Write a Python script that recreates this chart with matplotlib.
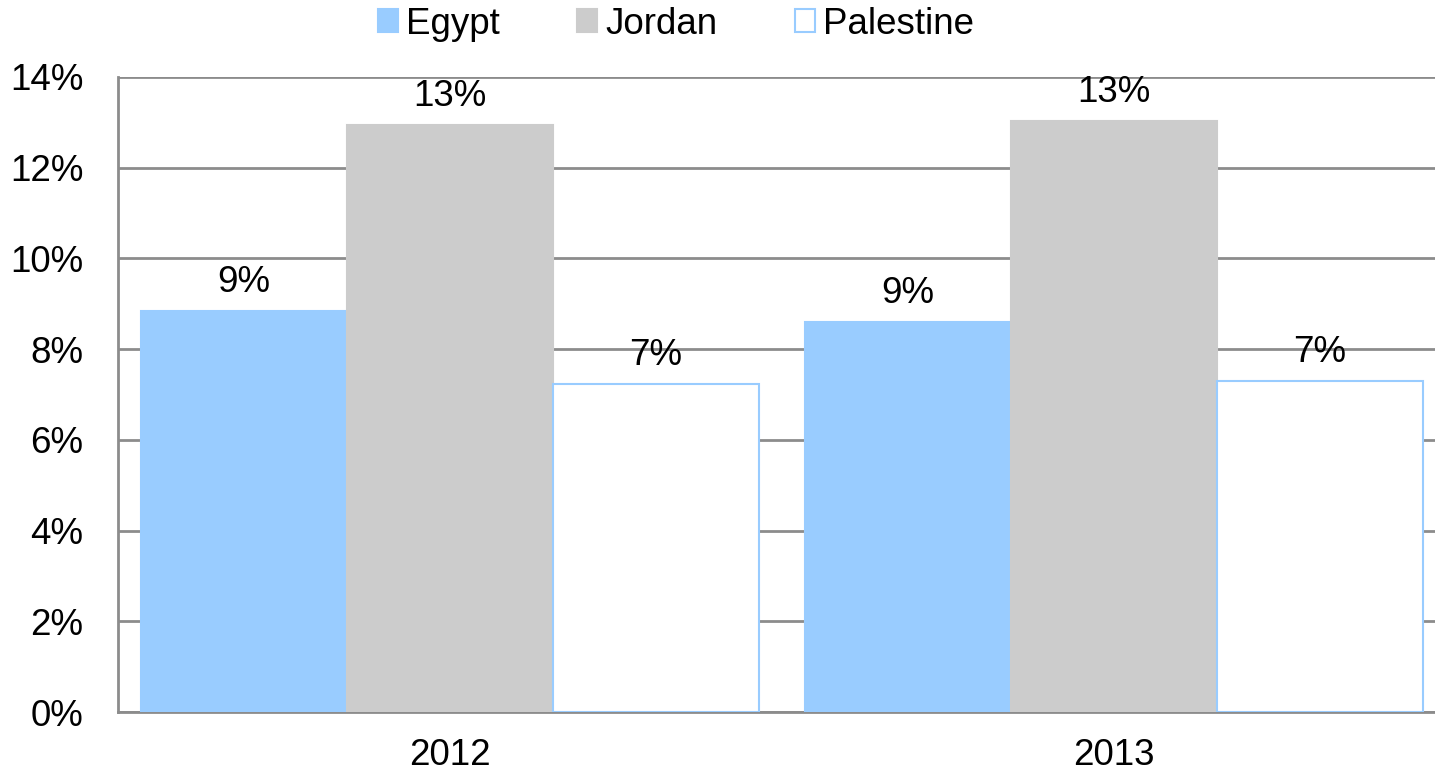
import matplotlib
matplotlib.use("Agg")
import matplotlib.pyplot as plt
from matplotlib.patches import Patch
import numpy as np

plt.rcParams['font.family'] = ['Liberation Sans', 'DejaVu Sans']

years = ["2012", "2013"]
countries = ["Egypt", "Jordan", "Palestine"]
egypt = [8.84, 8.60]
jordan = [12.94, 13.03]
palestine = [7.23, 7.30]
yticks = [0, 2, 4, 6, 8, 10, 12, 14]

series = [egypt, jordan, palestine]
faces = ["#99CCFF", "#CCCCCC", "#FFFFFF"]
edges = ["#99CCFF", "#CCCCCC", "#99CCFF"]
FS = 26.5

fig = plt.figure(figsize=(14.35, 7.76), dpi=100)
ax = fig.add_axes([118 / 1435, 64 / 776, 1328 / 1435, 635 / 776])

x = np.arange(len(years))
bw = 0.31
offsets = [-bw, 0, bw]
for vals, off, fc, ec, name in zip(series, offsets, faces, edges, countries):
    bars = ax.bar(x + off, vals, width=bw, color=fc, edgecolor=ec,
                  linewidth=1.5, label=name, zorder=3)
    for b, v in zip(bars, vals):
        ax.annotate(f"{v:.0f}%", (b.get_x() + b.get_width() / 2, v),
                    xytext=(0, 8), textcoords="offset points",
                    ha="center", va="bottom", fontsize=FS, color="black", zorder=4)

ax.set_xlim(-0.5, 1.5)
ax.set_ylim(0, 14)
ax.set_yticks(yticks)
ax.set_yticklabels([f"{t}%" for t in yticks])
ax.set_xticks(x)
ax.set_xticklabels(years)
ax.tick_params(axis="both", length=0, labelsize=FS, colors="black")
ax.tick_params(axis="y", pad=25)
ax.tick_params(axis="x", pad=19)
ax.yaxis.grid(True, color="#8C8C8C", linewidth=2, zorder=0)
ax.set_axisbelow(True)
for s in ["top", "right"]:
    ax.spines[s].set_visible(False)
for s in ["left", "bottom"]:
    ax.spines[s].set_color("#8C8C8C")
    ax.spines[s].set_linewidth(2)

handles = [Patch(facecolor=fc, edgecolor=ec, linewidth=1.5) for fc, ec in zip(faces, edges)]
fig.legend(handles, countries, loc="center", bbox_to_anchor=(676 / 1435, 1 - 24 / 776),
           ncol=3, frameon=False, fontsize=FS, handlelength=0.55, handleheight=0.55,
           handletextpad=0.22, columnspacing=2.1, borderpad=0)

fig.savefig("out.png", dpi=100, facecolor="white")
